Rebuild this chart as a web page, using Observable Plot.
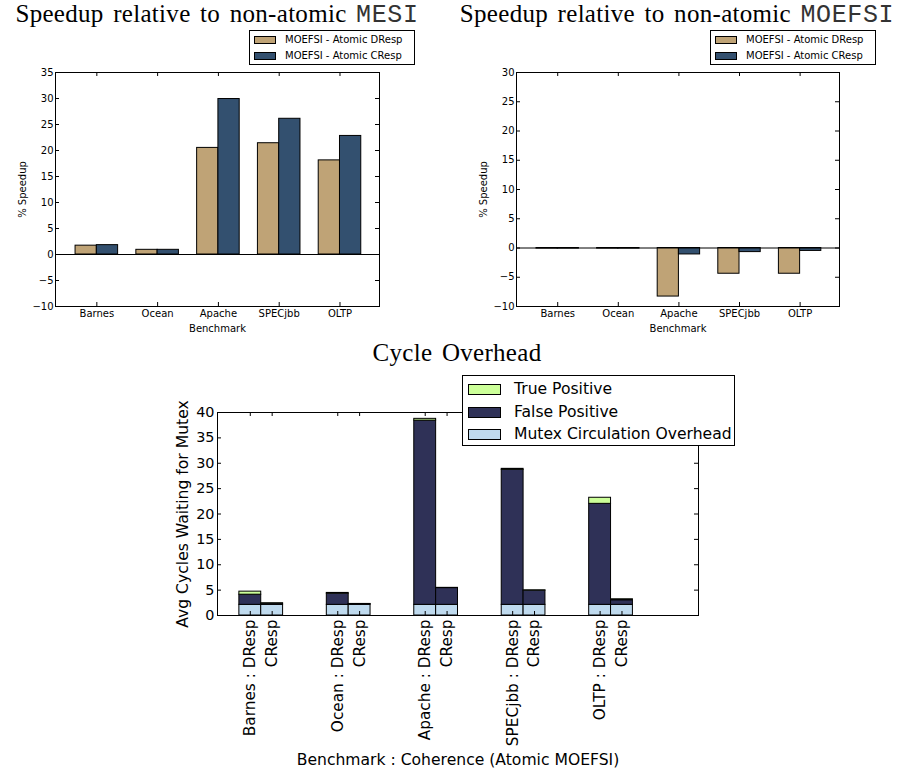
<!DOCTYPE html>
<html><head><meta charset="utf-8">
<script src="https://cdn.jsdelivr.net/npm/d3@7"></script>
<script src="https://cdn.jsdelivr.net/npm/@observablehq/plot@0.6"></script>
<style>
body{margin:0;background:#fff;}
#root{position:relative;width:901px;height:771px;overflow:hidden;font-family:"DejaVu Sans";background:#fff;}
.abs{position:absolute;}
.title{position:absolute;font-family:"Liberation Serif";font-size:25px;letter-spacing:0.3px;line-height:22px;white-space:nowrap;transform:translateX(-50%);word-spacing:3px;color:#000;}
.mono{font-family:"Liberation Mono";word-spacing:0;letter-spacing:0.6px;color:#333;}
.legend{position:absolute;background:#fff;border:1px solid #000;box-sizing:border-box;}
.legend .patch{position:absolute;border:1px solid #000;box-sizing:border-box;}
.legend .lab{position:absolute;white-space:nowrap;color:#000;font-family:"DejaVu Sans";}
</style></head>
<body><div id="root"></div>
<script>
// ---------------- data ----------------
const benchmarks = ["Barnes", "Ocean", "Apache", "SPECjbb", "OLTP"];
const speedupSeries = ["MOEFSI - Atomic DResp", "MOEFSI - Atomic CResp"];
// Speedup relative to non-atomic MESI (%)
const mesiDResp = [1.7, 0.9, 20.5, 21.4, 18.1];
const mesiCResp = [1.8, 0.9, 29.9, 26.1, 22.8];
// Speedup relative to non-atomic MOEFSI (%)
const moefsiDResp = [-0.1, -0.1, -8.3, -4.4, -4.4];
const moefsiCResp = [-0.1, -0.1, -1.1, -0.7, -0.5];
const mesiTicks = [-10, -5, 0, 5, 10, 15, 20, 25, 30, 35];
const moefsiTicks = [-10, -5, 0, 5, 10, 15, 20, 25, 30];

// Cycle overhead (avg cycles waiting for mutex)
const coherence = ["DResp", "CResp"];
const overheadSeries = ["True Positive", "False Positive", "Mutex Circulation Overhead"];
const mutexCircDResp = [2.1, 2.1, 2.1, 2.1, 2.1];
const falsePosDResp  = [2.0, 2.2, 36.3, 26.6, 19.9];
const truePosDResp   = [0.6, 0.15, 0.35, 0.2, 1.2];
const mutexCircCResp = [2.1, 2.1, 2.1, 2.1, 2.1];
const falsePosCResp  = [0.25, 0.15, 3.3, 2.8, 0.9];
const truePosCResp   = [0.05, 0.03, 0.05, 0.05, 0.2];
const cycleTicks = [0, 5, 10, 15, 20, 25, 30, 35, 40];

// ---------------- styles ----------------
const speedColors = ["#BFA376", "#33506F"];
const overheadColors = {"True Positive": "#CCFF99", "False Positive": "#2F3157", "Mutex Circulation Overhead": "#BFDAEE"};

const root = document.getElementById("root");

function place(el, left, top) {
  const d = document.createElement("div");
  d.className = "abs";
  d.style.left = left + "px";
  d.style.top = top + "px";
  d.appendChild(el);
  root.appendChild(d);
}

function title(html, cx, top) {
  const d = document.createElement("div");
  d.className = "title";
  d.innerHTML = html;
  d.style.left = cx + "px";
  d.style.top = top + "px";
  root.appendChild(d);
}

function legend(box, items, colors, opt) {
  const d = document.createElement("div");
  d.className = "legend";
  Object.assign(d.style, {left: box[0] + "px", top: box[1] + "px", width: box[2] + "px", height: box[3] + "px"});
  items.forEach((name, i) => {
    const c = opt.rows[i];
    const p = document.createElement("div");
    p.className = "patch";
    Object.assign(p.style, {left: opt.px + "px", top: (c - opt.ph / 2) + "px", width: opt.pw + "px", height: opt.ph + "px", background: colors[i]});
    d.appendChild(p);
    const t = document.createElement("div");
    t.className = "lab";
    const lh = Math.round(opt.fs * 1.2);
    Object.assign(t.style, {left: opt.tx + "px", top: (c - lh / 2) + "px", fontSize: opt.fs + "px", lineHeight: lh + "px"});
    t.textContent = name;
    d.appendChild(t);
  });
  root.appendChild(d);
}

function speedupChart(dresp, cresp, yTicks, width, height, m) {
  const bw = 0.35;
  const bars = [];
  benchmarks.forEach((b, i) => {
    bars.push({x1: i, x2: i + bw, v: dresp[i], s: 0});
    bars.push({x1: i + bw, x2: i + 2 * bw, v: cresp[i], s: 1});
  });
  const W = width - m.left - m.right, H = height - m.top - m.bottom;
  const xTicks = benchmarks.map((b, i) => i + bw);
  const xLab = new Map(xTicks.map((t, i) => [t, benchmarks[i]]));
  return Plot.plot({
    width, height,
    marginLeft: m.left, marginRight: m.right, marginTop: m.top, marginBottom: m.bottom,
    x: {type: "linear", domain: [-0.33, 5]},
    y: {type: "linear", domain: [yTicks[0], yTicks[yTicks.length - 1]]},
    style: {fontFamily: "DejaVu Sans", fontSize: "10px", color: "#000", background: "transparent", overflow: "visible"},
    marks: [
      Plot.rect(bars, {x1: "x1", x2: "x2", y1: 0, y2: "v", fill: d => speedColors[d.s], stroke: "#000", strokeWidth: 1}),
      Plot.ruleY([0], {stroke: "#000", strokeWidth: 1}),
      Plot.frame({stroke: "#000", strokeWidth: 1}),
      Plot.tickY(yTicks, {y: d => d, insetRight: W - 4, stroke: "#000"}),
      Plot.tickY(yTicks, {y: d => d, insetLeft: W - 4, stroke: "#000"}),
      Plot.tickX(xTicks, {x: d => d, insetTop: H - 4, stroke: "#000"}),
      Plot.tickX(xTicks, {x: d => d, insetBottom: H - 4, stroke: "#000"}),
      Plot.axisY(yTicks, {tickSize: 0, tickPadding: 2, label: null}),
      Plot.axisX(xTicks, {tickSize: 0, tickPadding: 3, tickFormat: d => xLab.get(d), label: null}),
      Plot.text(["Benchmark"], {frameAnchor: "bottom", lineAnchor: "top", dy: 18, text: d => d}),
      Plot.text(["% Speedup"], {frameAnchor: "left", textAnchor: "middle", rotate: -90, dx: -33, text: d => d})
    ]
  });
}

// ---- top-left ----
place(speedupChart(mesiDResp, mesiCResp, mesiTicks, 450, 340, {left: 55, right: 71, top: 72, bottom: 34}), 0, 0);
title('Speedup relative to non-atomic <span class="mono">MESI</span>', 217, 3);
legend([249, 30, 166, 35], speedupSeries, speedColors, {px: 4, pw: 22, ph: 8, tx: 35, fs: 10, rows: [8.5, 24.5]});

// ---- top-right ----
place(speedupChart(moefsiDResp, moefsiCResp, moefsiTicks, 451, 340, {left: 66, right: 62, top: 72, bottom: 34}), 450, 0);
title('Speedup relative to non-atomic <span class="mono">MOEFSI</span>', 677, 3);
legend([710, 30, 166, 35], speedupSeries, speedColors, {px: 4, pw: 22, ph: 8, tx: 35, fs: 10, rows: [8.5, 24.5]});

// ---- bottom ----
(function () {
  const width = 901, height = 431;
  const m = {left: 217, right: 203, top: 72, bottom: 156};
  const W = width - m.left - m.right, H = height - m.top - m.bottom;
  const stacks = [
    [mutexCircDResp, falsePosDResp, truePosDResp],
    [mutexCircCResp, falsePosCResp, truePosCResp]
  ];
  const layerNames = ["Mutex Circulation Overhead", "False Positive", "True Positive"];
  const segs = [];
  const xTicks = [], xLabels = [];
  benchmarks.forEach((b, i) => {
    coherence.forEach((c, j) => {
      const x1 = 4 * i + 1 + j;
      let base = 0;
      stacks[j].forEach((arr, k) => {
        segs.push({x1, x2: x1 + 1, y1: base, y2: base + arr[i], layer: layerNames[k]});
        base += arr[i];
      });
      xTicks.push(x1 + 0.5);
      xLabels.push(j === 0 ? `${b} : ${c}` : c);
    });
  });
  const xLab = new Map(xTicks.map((t, i) => [t, xLabels[i]]));
  const svg = Plot.plot({
    width, height,
    marginLeft: m.left, marginRight: m.right, marginTop: m.top, marginBottom: m.bottom,
    x: {type: "linear", domain: [0, 22]},
    y: {type: "linear", domain: [0, 40]},
    style: {fontFamily: "DejaVu Sans", fontSize: "14px", color: "#000", background: "transparent", overflow: "visible"},
    marks: [
      Plot.rect(segs, {x1: "x1", x2: "x2", y1: "y1", y2: "y2", fill: d => overheadColors[d.layer], stroke: "#000", strokeWidth: 1}),
      Plot.frame({stroke: "#000", strokeWidth: 1}),
      Plot.tickY(cycleTicks, {y: d => d, insetRight: W - 4, stroke: "#000"}),
      Plot.tickY(cycleTicks, {y: d => d, insetLeft: W - 4, stroke: "#000"}),
      Plot.tickX(xTicks, {x: d => d, insetTop: H - 4, stroke: "#000"}),
      Plot.tickX(xTicks, {x: d => d, insetBottom: H - 4, stroke: "#000"}),
      Plot.axisY(cycleTicks, {tickSize: 0, tickPadding: 3, fontSize: 14.4, label: null}),
      Plot.axisX(xTicks, {tickSize: 0, tickPadding: 4, tickRotate: -90, fontSize: 15.3, tickFormat: d => xLab.get(d), label: null}),
      Plot.text(["Benchmark : Coherence (Atomic MOEFSI)"], {frameAnchor: "bottom", dy: 149, fontSize: 15.6, text: d => d}),
      Plot.text(["Avg Cycles Waiting for Mutex"], {frameAnchor: "left", textAnchor: "middle", rotate: -90, dx: -35, fontSize: 15.6, text: d => d})
    ]
  });
  place(svg, 0, 340);
  title('Cycle Overhead', 457, 342);
  legend([462, 375, 273, 71], overheadSeries, overheadSeries.map(s => overheadColors[s]), {px: 5, pw: 33, ph: 11, tx: 51, fs: 15.6, rows: [13.5, 36, 58]});
})();
</script></body></html>
